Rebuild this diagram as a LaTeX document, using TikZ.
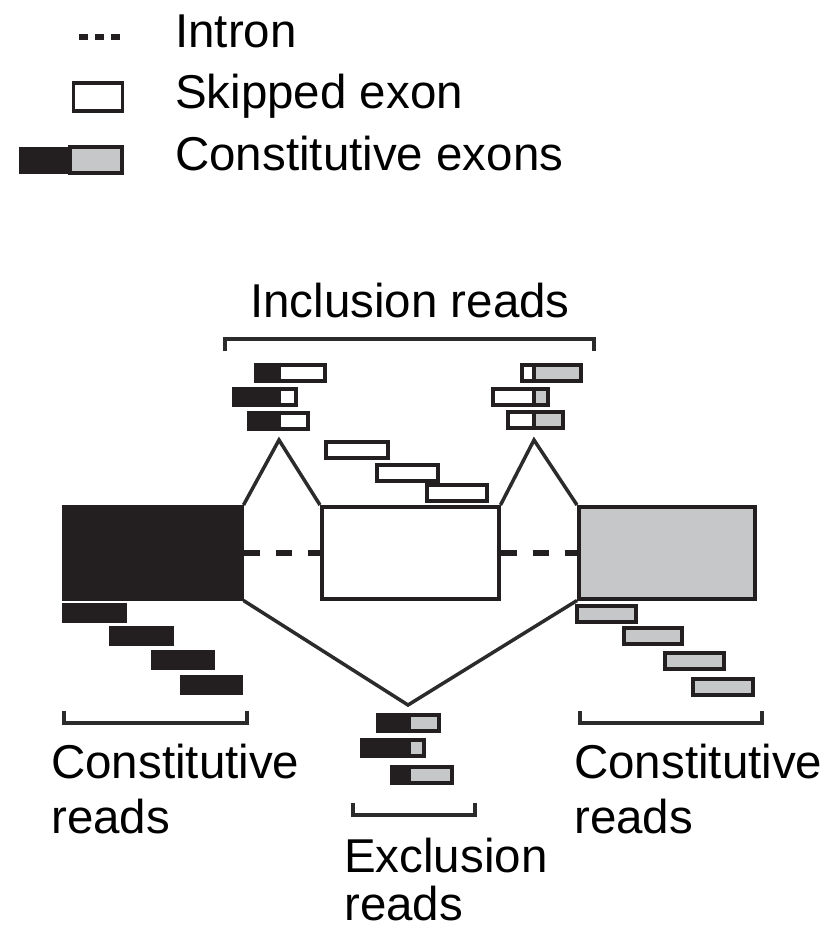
\documentclass[tikz,border=0pt]{standalone}
\usepackage{fontspec}
\setmainfont{Liberation Sans}
\definecolor{blk}{HTML}{231F20}
\definecolor{gry}{HTML}{C6C7C9}
\definecolor{lne}{HTML}{2B2B2B}
\newcommand{\rdbox}[6]{% x1, xj, x2, ytop, leftfill, rightfill
  \fill[#5] (#1,#4) rectangle (#2,#4+16);
  \fill[#6] (#2,#4) rectangle (#3,#4+16);
  \draw[outl] (#1,#4) rectangle (#3,#4+16);
  \draw[outl] (#2,#4) -- (#2,#4+16);}
\newcommand{\sgbox}[4]{% x1, x2, ytop, fill
  \draw[outl,fill=#4] (#1,#3) rectangle (#2,#3+16);}
\begin{document}
\begin{tikzpicture}[x=1pt,y=-1pt,
  outl/.style={draw=blk,line width=3.3pt},
  exon/.style={draw=blk,line width=3.5pt,minimum height=92pt,inner sep=0pt,anchor=north west},
  junc/.style={draw=lne,line width=3.5pt,line join=miter},
  intron/.style={draw=blk,line width=6pt,dash pattern=on 16pt off 16pt},
  brack/.style={draw=lne,line width=3.5pt},
  lbl/.style={font=\fontsize{47.5}{55}\selectfont,inner sep=0pt,align=left},
  ]
\useasboundingbox (0,0) rectangle (830,938);
% legend
\draw[draw=blk,line width=5.5pt,dash pattern=on 9pt off 7pt] (79,37) -- (120,37);
\node[outl,fill=white,minimum width=49pt,minimum height=28pt,inner sep=0pt] (lgw) at (98,97) {};
\node[fill=blk,minimum width=50pt,minimum height=27pt,inner sep=0pt] (lgb) at (44,160) {};
\node[outl,fill=gry,minimum width=52pt,minimum height=26pt,inner sep=0pt] (lgg) at (96,160) {};
\node[lbl,anchor=base west] (t1) at (175,47) {Intron};
\node[lbl,anchor=base west] (t2) at (175,108) {Skipped exon};
\node[lbl,anchor=base west] (t3) at (175,170) {Constitutive exons};
% exons
\node[exon,fill=blk,minimum width=178pt] (L) at (62,505) {};
\node[exon,fill=white,minimum width=177pt] (M) at (320,505) {};
\node[exon,fill=gry,minimum width=176pt] (R) at (577,505) {};
% introns
\draw[intron] (L.east) -- (M.west);
\draw[intron] (M.east) -- (R.west);
% junctions
\coordinate (a1) at (279,440);
\coordinate (a2) at (534,440);
\coordinate (a3) at (408,705);
\draw[junc] (L.north east) -- (a1) -- (M.north west);
\draw[junc] (M.north east) -- (a2) -- (R.north west);
\draw[junc] (L.south east) -- (a3) -- (R.south west);
% constitutive reads left
\sgbox{64}{125}{605}{blk}
\sgbox{111}{172}{628}{blk}
\sgbox{153}{213}{652}{blk}
\sgbox{182}{241}{677}{blk}
% constitutive reads right
\sgbox{577}{636}{606}{gry}
\sgbox{624}{682}{628}{gry}
\sgbox{665}{724}{653}{gry}
\sgbox{693}{753}{679}{gry}
% skipped exon reads
\sgbox{326}{388}{442}{white}
\sgbox{377}{438}{465}{white}
\sgbox{427}{487}{485}{white}
% inclusion reads left
\rdbox{256}{279}{325}{365}{blk}{white}
\rdbox{234}{279}{296}{389}{blk}{white}
\rdbox{249}{279}{308}{413}{blk}{white}
% inclusion reads right
\rdbox{522}{534}{581}{365}{white}{gry}
\rdbox{493}{534}{548}{389}{white}{gry}
\rdbox{508}{534}{563}{412}{white}{gry}
% exclusion reads
\rdbox{378}{409}{439}{715}{blk}{gry}
\rdbox{362}{409}{424}{740}{blk}{gry}
\rdbox{392}{409}{452}{767}{blk}{gry}
% brackets
\draw[brack] (225,351) -- (225,339) -- (594,339) -- (594,351);
\draw[brack] (64,711) -- (64,723) -- (247,723) -- (247,711);
\draw[brack] (580,711) -- (580,723) -- (762,723) -- (762,711);
\draw[brack] (353,803) -- (353,815) -- (475,815) -- (475,803);
% labels
\node[lbl,anchor=base] (incl) at (410,317) {Inclusion reads};
\node[lbl,anchor=base west] (c1) at (51,778) {Constitutive};
\node[lbl,anchor=base west] (c1b) at (51,833) {reads};
\node[lbl,anchor=base west] (c2) at (574,778) {Constitutive};
\node[lbl,anchor=base west] (c2b) at (574,833) {reads};
\node[lbl,anchor=base west] (e1) at (344,872) {Exclusion};
\node[lbl,anchor=base west] (e1b) at (344,920) {reads};
\end{tikzpicture}
\end{document}
